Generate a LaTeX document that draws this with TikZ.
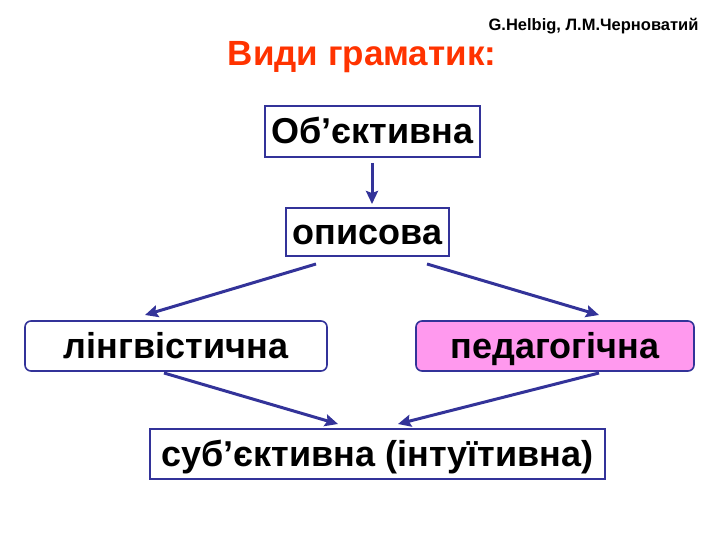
\documentclass[tikz,border=0pt]{standalone}
\usepackage{fontspec}
\setmainfont{Liberation Sans}
\usetikzlibrary{arrows.meta}
\definecolor{navy}{HTML}{333399}
\definecolor{titlered}{HTML}{FF3300}
\definecolor{pinkfill}{HTML}{FF99EE}
\tikzset{
  box/.style={draw=navy, line width=1.6pt, inner sep=0pt, text height=25pt, text depth=0pt, font=\fontsize{36}{40}\selectfont\bfseries},
  conn/.style={draw=navy, line width=3pt, -{Stealth[length=13pt,width=12pt,inset=2pt]}}
}
\begin{document}
\begin{tikzpicture}[x=1pt,y=-1pt]
\useasboundingbox (0,0) rectangle (720,540);
\node[font=\fontsize{35}{38}\selectfont\bfseries, text=titlered, anchor=base] (title) at (362,66) {Види граматик:};
\node[font=\fontsize{16.5}{18}\selectfont\bfseries, anchor=base east] (auth) at (702,31) {G.Helbig, Л.М.Черноватий};
\node[box, minimum width=215pt, minimum height=51pt] (obj) at (372.5,131.5) {Об’єктивна};
\node[box, minimum width=163pt, minimum height=48pt] (opys) at (367.5,232) {описова};
\node[box, rounded corners=6pt, minimum width=302pt, minimum height=50pt] (ling) at (176,346) {лінгвістична};
\node[box, rounded corners=6pt, fill=pinkfill, minimum width=278pt, minimum height=50pt] (ped) at (555,346) {педагогічна};
\node[box, minimum width=455pt, minimum height=50pt] (subj) at (377.5,454) {суб’єктивна (інтуїтивна)};
\coordinate (a1) at (372,163);
\coordinate (a2) at (372,204);
\coordinate (b1) at (316,264);
\coordinate (b2) at (145,315);
\coordinate (c1) at (427,264);
\coordinate (c2) at (599,315);
\coordinate (d1) at (164,373);
\coordinate (d2) at (338,424);
\coordinate (e1) at (599,373);
\coordinate (e2) at (398,424);
\draw[conn] (a1) -- (a2);
\draw[conn] (b1) -- (b2);
\draw[conn] (c1) -- (c2);
\draw[conn] (d1) -- (d2);
\draw[conn] (e1) -- (e2);
\end{tikzpicture}
\end{document}
